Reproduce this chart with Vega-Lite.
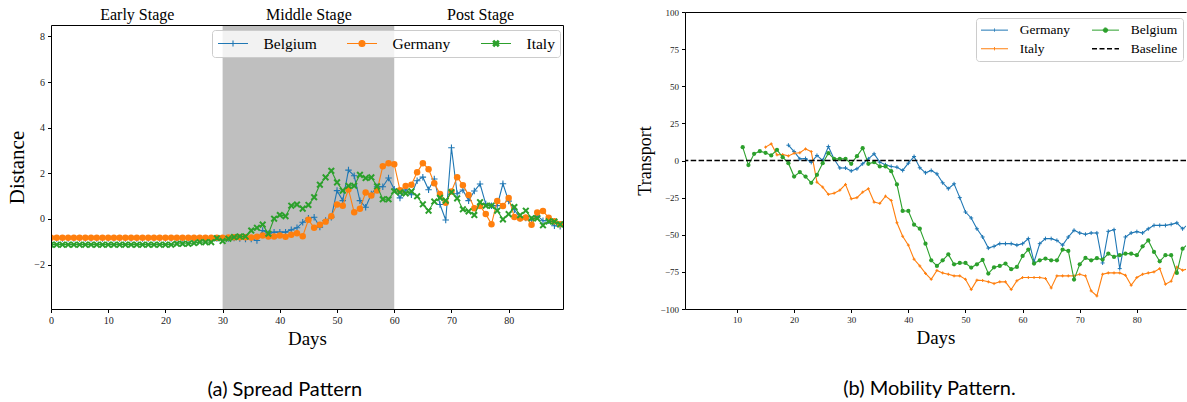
{
"$schema":"https://vega.github.io/schema/vega-lite/v6.json",
"background":"white",
"padding":{"left":6,"top":6,"right":0,"bottom":0},
"spacing":73,
"config":{"font":"Liberation Serif","view":{"stroke":null},
"axis":{"labelFont":"Liberation Serif","titleFont":"Liberation Serif","labelColor":"#222","titleColor":"black","domainColor":"black","tickColor":"black","titleFontWeight":"normal","grid":false,"tickSize":3.5,"labelPadding":3,"domainWidth":1,"tickWidth":1,"labelFlush":false,"labelOverlap":false}},
"resolve":{"scale":{"x":"independent","y":"independent","color":"independent"},"legend":{"color":"independent"}},
"datasets":{
"left":[
{"day":0,"c":"Belgium","v":-0.86},{"day":1,"c":"Belgium","v":-0.86},{"day":2,"c":"Belgium","v":-0.86},{"day":3,"c":"Belgium","v":-0.86},{"day":4,"c":"Belgium","v":-0.86},{"day":5,"c":"Belgium","v":-0.86},{"day":6,"c":"Belgium","v":-0.86},{"day":7,"c":"Belgium","v":-0.86},{"day":8,"c":"Belgium","v":-0.86},{"day":9,"c":"Belgium","v":-0.86},
{"day":10,"c":"Belgium","v":-0.86},{"day":11,"c":"Belgium","v":-0.86},{"day":12,"c":"Belgium","v":-0.86},{"day":13,"c":"Belgium","v":-0.86},{"day":14,"c":"Belgium","v":-0.86},{"day":15,"c":"Belgium","v":-0.86},{"day":16,"c":"Belgium","v":-0.86},{"day":17,"c":"Belgium","v":-0.86},{"day":18,"c":"Belgium","v":-0.86},{"day":19,"c":"Belgium","v":-0.86},
{"day":20,"c":"Belgium","v":-0.86},{"day":21,"c":"Belgium","v":-0.86},{"day":22,"c":"Belgium","v":-0.86},{"day":23,"c":"Belgium","v":-0.86},{"day":24,"c":"Belgium","v":-0.86},{"day":25,"c":"Belgium","v":-0.86},{"day":26,"c":"Belgium","v":-0.86},{"day":27,"c":"Belgium","v":-0.86},{"day":28,"c":"Belgium","v":-0.86},{"day":29,"c":"Belgium","v":-0.86},
{"day":30,"c":"Belgium","v":-0.86},{"day":31,"c":"Belgium","v":-0.86},{"day":32,"c":"Belgium","v":-0.84},{"day":33,"c":"Belgium","v":-0.86},{"day":34,"c":"Belgium","v":-0.88},{"day":35,"c":"Belgium","v":-0.88},{"day":36,"c":"Belgium","v":-0.95},{"day":37,"c":"Belgium","v":-0.51},{"day":38,"c":"Belgium","v":-0.65},{"day":39,"c":"Belgium","v":-0.58},
{"day":40,"c":"Belgium","v":-0.58},{"day":41,"c":"Belgium","v":-0.58},{"day":42,"c":"Belgium","v":-0.48},{"day":43,"c":"Belgium","v":-0.39},{"day":44,"c":"Belgium","v":-0.15},{"day":45,"c":"Belgium","v":0.03},{"day":46,"c":"Belgium","v":0.07},{"day":47,"c":"Belgium","v":-0.36},{"day":48,"c":"Belgium","v":-0.07},{"day":49,"c":"Belgium","v":0.07},
{"day":50,"c":"Belgium","v":1.24},{"day":51,"c":"Belgium","v":0.8},{"day":52,"c":"Belgium","v":2.14},{"day":53,"c":"Belgium","v":1.89},{"day":54,"c":"Belgium","v":0.8},{"day":55,"c":"Belgium","v":0.51},{"day":56,"c":"Belgium","v":1.09},{"day":57,"c":"Belgium","v":1.41},{"day":58,"c":"Belgium","v":1.41},{"day":59,"c":"Belgium","v":1.79},
{"day":60,"c":"Belgium","v":1.3},{"day":61,"c":"Belgium","v":0.92},{"day":62,"c":"Belgium","v":1.3},{"day":63,"c":"Belgium","v":1.06},{"day":64,"c":"Belgium","v":1.67},{"day":65,"c":"Belgium","v":1.83},{"day":66,"c":"Belgium","v":1.28},{"day":67,"c":"Belgium","v":1.75},{"day":68,"c":"Belgium","v":0.63},{"day":69,"c":"Belgium","v":-0.05},
{"day":70,"c":"Belgium","v":3.12},{"day":71,"c":"Belgium","v":1.1},{"day":72,"c":"Belgium","v":1.27},{"day":73,"c":"Belgium","v":0.8},{"day":74,"c":"Belgium","v":1.22},{"day":75,"c":"Belgium","v":1.53},{"day":76,"c":"Belgium","v":0.65},{"day":77,"c":"Belgium","v":0.58},{"day":78,"c":"Belgium","v":0.58},{"day":79,"c":"Belgium","v":1.54},
{"day":80,"c":"Belgium","v":0.78},{"day":81,"c":"Belgium","v":0.4},{"day":82,"c":"Belgium","v":0.03},{"day":83,"c":"Belgium","v":0.04},{"day":84,"c":"Belgium","v":-0.04},{"day":85,"c":"Belgium","v":0.14},{"day":86,"c":"Belgium","v":-0.08},{"day":87,"c":"Belgium","v":-0.08},{"day":88,"c":"Belgium","v":-0.3},{"day":89,"c":"Belgium","v":-0.32},
{"day":0,"c":"Germany","v":-0.83},{"day":1,"c":"Germany","v":-0.83},{"day":2,"c":"Germany","v":-0.83},{"day":3,"c":"Germany","v":-0.83},{"day":4,"c":"Germany","v":-0.83},{"day":5,"c":"Germany","v":-0.83},{"day":6,"c":"Germany","v":-0.83},{"day":7,"c":"Germany","v":-0.83},{"day":8,"c":"Germany","v":-0.83},{"day":9,"c":"Germany","v":-0.83},
{"day":10,"c":"Germany","v":-0.83},{"day":11,"c":"Germany","v":-0.83},{"day":12,"c":"Germany","v":-0.83},{"day":13,"c":"Germany","v":-0.83},{"day":14,"c":"Germany","v":-0.83},{"day":15,"c":"Germany","v":-0.83},{"day":16,"c":"Germany","v":-0.83},{"day":17,"c":"Germany","v":-0.83},{"day":18,"c":"Germany","v":-0.83},{"day":19,"c":"Germany","v":-0.83},
{"day":20,"c":"Germany","v":-0.83},{"day":21,"c":"Germany","v":-0.83},{"day":22,"c":"Germany","v":-0.83},{"day":23,"c":"Germany","v":-0.83},{"day":24,"c":"Germany","v":-0.83},{"day":25,"c":"Germany","v":-0.83},{"day":26,"c":"Germany","v":-0.83},{"day":27,"c":"Germany","v":-0.83},{"day":28,"c":"Germany","v":-0.83},{"day":29,"c":"Germany","v":-0.83},
{"day":30,"c":"Germany","v":-0.83},{"day":31,"c":"Germany","v":-0.82},{"day":32,"c":"Germany","v":-0.8},{"day":33,"c":"Germany","v":-0.8},{"day":34,"c":"Germany","v":-0.8},{"day":35,"c":"Germany","v":-0.82},{"day":36,"c":"Germany","v":-0.78},{"day":37,"c":"Germany","v":-0.73},{"day":38,"c":"Germany","v":-0.77},{"day":39,"c":"Germany","v":-0.77},
{"day":40,"c":"Germany","v":-0.73},{"day":41,"c":"Germany","v":-0.78},{"day":42,"c":"Germany","v":-0.7},{"day":43,"c":"Germany","v":-0.63},{"day":44,"c":"Germany","v":-0.76},{"day":45,"c":"Germany","v":-0.04},{"day":46,"c":"Germany","v":-0.39},{"day":47,"c":"Germany","v":-0.26},{"day":48,"c":"Germany","v":-0.12},{"day":49,"c":"Germany","v":0.12},
{"day":50,"c":"Germany","v":0.63},{"day":51,"c":"Germany","v":0.58},{"day":52,"c":"Germany","v":1.29},{"day":53,"c":"Germany","v":0.29},{"day":54,"c":"Germany","v":0.44},{"day":55,"c":"Germany","v":1.16},{"day":56,"c":"Germany","v":1.03},{"day":57,"c":"Germany","v":1.24},{"day":58,"c":"Germany","v":2.31},{"day":59,"c":"Germany","v":2.44},
{"day":60,"c":"Germany","v":2.4},{"day":61,"c":"Germany","v":1.26},{"day":62,"c":"Germany","v":1.44},{"day":63,"c":"Germany","v":1.5},{"day":64,"c":"Germany","v":2.04},{"day":65,"c":"Germany","v":2.44},{"day":66,"c":"Germany","v":2.18},{"day":67,"c":"Germany","v":1.56},{"day":68,"c":"Germany","v":1.09},{"day":69,"c":"Germany","v":0.71},
{"day":70,"c":"Germany","v":1.2},{"day":71,"c":"Germany","v":1.83},{"day":72,"c":"Germany","v":1.48},{"day":73,"c":"Germany","v":1.05},{"day":74,"c":"Germany","v":0.47},{"day":75,"c":"Germany","v":0.57},{"day":76,"c":"Germany","v":0.21},{"day":77,"c":"Germany","v":-0.23},{"day":78,"c":"Germany","v":0.78},{"day":79,"c":"Germany","v":0.57},
{"day":80,"c":"Germany","v":0.92},{"day":81,"c":"Germany","v":0.08},{"day":82,"c":"Germany","v":0.02},{"day":83,"c":"Germany","v":0.06},{"day":84,"c":"Germany","v":-0.26},{"day":85,"c":"Germany","v":0.28},{"day":86,"c":"Germany","v":0.35},{"day":87,"c":"Germany","v":0.05},{"day":88,"c":"Germany","v":-0.1},{"day":89,"c":"Germany","v":-0.23},
{"day":0,"c":"Italy","v":-1.13},{"day":1,"c":"Italy","v":-1.13},{"day":2,"c":"Italy","v":-1.13},{"day":3,"c":"Italy","v":-1.13},{"day":4,"c":"Italy","v":-1.13},{"day":5,"c":"Italy","v":-1.13},{"day":6,"c":"Italy","v":-1.13},{"day":7,"c":"Italy","v":-1.13},{"day":8,"c":"Italy","v":-1.13},{"day":9,"c":"Italy","v":-1.13},
{"day":10,"c":"Italy","v":-1.13},{"day":11,"c":"Italy","v":-1.13},{"day":12,"c":"Italy","v":-1.13},{"day":13,"c":"Italy","v":-1.13},{"day":14,"c":"Italy","v":-1.13},{"day":15,"c":"Italy","v":-1.13},{"day":16,"c":"Italy","v":-1.13},{"day":17,"c":"Italy","v":-1.13},{"day":18,"c":"Italy","v":-1.13},{"day":19,"c":"Italy","v":-1.13},
{"day":20,"c":"Italy","v":-1.13},{"day":21,"c":"Italy","v":-1.13},{"day":22,"c":"Italy","v":-1.09},{"day":23,"c":"Italy","v":-1.09},{"day":24,"c":"Italy","v":-1.09},{"day":25,"c":"Italy","v":-1.06},{"day":26,"c":"Italy","v":-1.02},{"day":27,"c":"Italy","v":-1.02},{"day":28,"c":"Italy","v":-1.02},{"day":29,"c":"Italy","v":-0.85},
{"day":30,"c":"Italy","v":-0.97},{"day":31,"c":"Italy","v":-0.87},{"day":32,"c":"Italy","v":-0.8},{"day":33,"c":"Italy","v":-0.77},{"day":34,"c":"Italy","v":-0.77},{"day":35,"c":"Italy","v":-0.51},{"day":36,"c":"Italy","v":-0.39},{"day":37,"c":"Italy","v":-0.25},{"day":38,"c":"Italy","v":-0.65},{"day":39,"c":"Italy","v":0.01},
{"day":40,"c":"Italy","v":0.17},{"day":41,"c":"Italy","v":0.12},{"day":42,"c":"Italy","v":0.58},{"day":43,"c":"Italy","v":0.63},{"day":44,"c":"Italy","v":0.45},{"day":45,"c":"Italy","v":0.61},{"day":46,"c":"Italy","v":0.95},{"day":47,"c":"Italy","v":1.5},{"day":48,"c":"Italy","v":1.82},{"day":49,"c":"Italy","v":2.11},
{"day":50,"c":"Italy","v":1.6},{"day":51,"c":"Italy","v":1.24},{"day":52,"c":"Italy","v":1.45},{"day":53,"c":"Italy","v":1.45},{"day":54,"c":"Italy","v":1.93},{"day":55,"c":"Italy","v":1.79},{"day":56,"c":"Italy","v":1.82},{"day":57,"c":"Italy","v":1.43},{"day":58,"c":"Italy","v":0.86},{"day":59,"c":"Italy","v":0.86},
{"day":60,"c":"Italy","v":1.21},{"day":61,"c":"Italy","v":1.16},{"day":62,"c":"Italy","v":1.12},{"day":63,"c":"Italy","v":1.21},{"day":64,"c":"Italy","v":0.99},{"day":65,"c":"Italy","v":0.64},{"day":66,"c":"Italy","v":0.36},{"day":67,"c":"Italy","v":0.76},{"day":68,"c":"Italy","v":0.92},{"day":69,"c":"Italy","v":0.8},
{"day":70,"c":"Italy","v":1.17},{"day":71,"c":"Italy","v":0.9},{"day":72,"c":"Italy","v":0.42},{"day":73,"c":"Italy","v":0.33},{"day":74,"c":"Italy","v":0.17},{"day":75,"c":"Italy","v":0.73},{"day":76,"c":"Italy","v":0.58},{"day":77,"c":"Italy","v":0.58},{"day":78,"c":"Italy","v":0.36},{"day":79,"c":"Italy","v":-0.02},
{"day":80,"c":"Italy","v":0.21},{"day":81,"c":"Italy","v":0.52},{"day":82,"c":"Italy","v":0.16},{"day":83,"c":"Italy","v":0.36},{"day":84,"c":"Italy","v":0.03},{"day":85,"c":"Italy","v":0.02},{"day":86,"c":"Italy","v":-0.28},{"day":87,"c":"Italy","v":-0.11},{"day":88,"c":"Italy","v":-0.12},{"day":89,"c":"Italy","v":-0.24}
],
"right":[
{"day":19,"c":"Germany","v":10.3},{"day":20,"c":"Germany","v":6},{"day":21,"c":"Germany","v":1.1},{"day":22,"c":"Germany","v":1.3},{"day":23,"c":"Germany","v":-1.3},{"day":24,"c":"Germany","v":3.4},{"day":25,"c":"Germany","v":0},{"day":26,"c":"Germany","v":9.4},{"day":27,"c":"Germany","v":1},{"day":28,"c":"Germany","v":-5},{"day":29,"c":"Germany","v":-5},
{"day":30,"c":"Germany","v":-7},{"day":31,"c":"Germany","v":-5.6},{"day":32,"c":"Germany","v":-2.2},{"day":33,"c":"Germany","v":1.1},{"day":34,"c":"Germany","v":4.5},{"day":35,"c":"Germany","v":-1.1},{"day":36,"c":"Germany","v":-2.9},{"day":37,"c":"Germany","v":-4},{"day":38,"c":"Germany","v":-4.5},{"day":39,"c":"Germany","v":-6.7},
{"day":40,"c":"Germany","v":-1.8},{"day":41,"c":"Germany","v":2.7},{"day":42,"c":"Germany","v":-4.9},{"day":43,"c":"Germany","v":-8.3},{"day":44,"c":"Germany","v":-6.7},{"day":45,"c":"Germany","v":-9},{"day":46,"c":"Germany","v":-15},{"day":47,"c":"Germany","v":-19},{"day":48,"c":"Germany","v":-15.7},{"day":49,"c":"Germany","v":-25},
{"day":50,"c":"Germany","v":-34.7},{"day":51,"c":"Germany","v":-38.7},{"day":52,"c":"Germany","v":-46},{"day":53,"c":"Germany","v":-51.5},{"day":54,"c":"Germany","v":-59},{"day":55,"c":"Germany","v":-57.8},{"day":56,"c":"Germany","v":-56},{"day":57,"c":"Germany","v":-56},{"day":58,"c":"Germany","v":-56},{"day":59,"c":"Germany","v":-57},
{"day":60,"c":"Germany","v":-56},{"day":61,"c":"Germany","v":-52.6},{"day":62,"c":"Germany","v":-68.3},{"day":63,"c":"Germany","v":-56},{"day":64,"c":"Germany","v":-52.6},{"day":65,"c":"Germany","v":-52.6},{"day":66,"c":"Germany","v":-53.8},{"day":67,"c":"Germany","v":-57},{"day":68,"c":"Germany","v":-51.5},{"day":69,"c":"Germany","v":-47},
{"day":70,"c":"Germany","v":-48.8},{"day":71,"c":"Germany","v":-49.7},{"day":72,"c":"Germany","v":-48.8},{"day":73,"c":"Germany","v":-48.8},{"day":74,"c":"Germany","v":-69},{"day":75,"c":"Germany","v":-47.7},{"day":76,"c":"Germany","v":-46.6},{"day":77,"c":"Germany","v":-72.8},{"day":78,"c":"Germany","v":-51.5},{"day":79,"c":"Germany","v":-48.8},
{"day":80,"c":"Germany","v":-47.9},{"day":81,"c":"Germany","v":-48.8},{"day":82,"c":"Germany","v":-46},{"day":83,"c":"Germany","v":-43.7},{"day":84,"c":"Germany","v":-43.7},{"day":85,"c":"Germany","v":-43.7},{"day":86,"c":"Germany","v":-43},{"day":87,"c":"Germany","v":-42},{"day":88,"c":"Germany","v":-46},{"day":89,"c":"Germany","v":-43},
{"day":15,"c":"Italy","v":9},{"day":16,"c":"Italy","v":11.2},{"day":17,"c":"Italy","v":3.8},{"day":18,"c":"Italy","v":4},{"day":19,"c":"Italy","v":3.1},
{"day":20,"c":"Italy","v":4.9},{"day":21,"c":"Italy","v":5.2},{"day":22,"c":"Italy","v":7.8},{"day":23,"c":"Italy","v":6},{"day":24,"c":"Italy","v":-14.6},{"day":25,"c":"Italy","v":-17.9},{"day":26,"c":"Italy","v":-22.8},{"day":27,"c":"Italy","v":-22},{"day":28,"c":"Italy","v":-20},{"day":29,"c":"Italy","v":-16.1},
{"day":30,"c":"Italy","v":-25.8},{"day":31,"c":"Italy","v":-25},{"day":32,"c":"Italy","v":-21.3},{"day":33,"c":"Italy","v":-19},{"day":34,"c":"Italy","v":-28},{"day":35,"c":"Italy","v":-28.9},{"day":36,"c":"Italy","v":-24},{"day":37,"c":"Italy","v":-26.9},{"day":38,"c":"Italy","v":-41.9},{"day":39,"c":"Italy","v":-51},
{"day":40,"c":"Italy","v":-57},{"day":41,"c":"Italy","v":-66.5},{"day":42,"c":"Italy","v":-71},{"day":43,"c":"Italy","v":-76},{"day":44,"c":"Italy","v":-80},{"day":45,"c":"Italy","v":-74},{"day":46,"c":"Italy","v":-75.7},{"day":47,"c":"Italy","v":-76.6},{"day":48,"c":"Italy","v":-77.7},{"day":49,"c":"Italy","v":-77.7},
{"day":50,"c":"Italy","v":-80},{"day":51,"c":"Italy","v":-86.9},{"day":52,"c":"Italy","v":-80.6},{"day":53,"c":"Italy","v":-80.8},{"day":54,"c":"Italy","v":-81.7},{"day":55,"c":"Italy","v":-82.9},{"day":56,"c":"Italy","v":-81.7},{"day":57,"c":"Italy","v":-81.7},{"day":58,"c":"Italy","v":-86.9},{"day":59,"c":"Italy","v":-81},
{"day":60,"c":"Italy","v":-78.8},{"day":61,"c":"Italy","v":-78.8},{"day":62,"c":"Italy","v":-78.8},{"day":63,"c":"Italy","v":-78.8},{"day":64,"c":"Italy","v":-79.5},{"day":65,"c":"Italy","v":-85.8},{"day":66,"c":"Italy","v":-77.7},{"day":67,"c":"Italy","v":-77.7},{"day":68,"c":"Italy","v":-77.7},{"day":69,"c":"Italy","v":-77.7},
{"day":70,"c":"Italy","v":-76.6},{"day":71,"c":"Italy","v":-77.7},{"day":72,"c":"Italy","v":-87.8},{"day":73,"c":"Italy","v":-91.2},{"day":74,"c":"Italy","v":-76.6},{"day":75,"c":"Italy","v":-75.7},{"day":76,"c":"Italy","v":-75.7},{"day":77,"c":"Italy","v":-75.7},{"day":78,"c":"Italy","v":-77.3},{"day":79,"c":"Italy","v":-84},
{"day":80,"c":"Italy","v":-78.8},{"day":81,"c":"Italy","v":-76.6},{"day":82,"c":"Italy","v":-75.7},{"day":83,"c":"Italy","v":-75},{"day":84,"c":"Italy","v":-72.8},{"day":85,"c":"Italy","v":-83.3},{"day":86,"c":"Italy","v":-81.3},{"day":87,"c":"Italy","v":-71.7},{"day":88,"c":"Italy","v":-73.9},{"day":89,"c":"Italy","v":-73},
{"day":11,"c":"Belgium","v":9},{"day":12,"c":"Belgium","v":-3.1},{"day":13,"c":"Belgium","v":4.5},{"day":14,"c":"Belgium","v":6.3},{"day":15,"c":"Belgium","v":5.2},{"day":16,"c":"Belgium","v":3.4},{"day":17,"c":"Belgium","v":7.2},{"day":18,"c":"Belgium","v":2.2},{"day":19,"c":"Belgium","v":-1.8},
{"day":20,"c":"Belgium","v":-10.8},{"day":21,"c":"Belgium","v":-7.8},{"day":22,"c":"Belgium","v":-10.8},{"day":23,"c":"Belgium","v":-15},{"day":24,"c":"Belgium","v":-9.6},{"day":25,"c":"Belgium","v":-1.8},{"day":26,"c":"Belgium","v":4.9},{"day":27,"c":"Belgium","v":1.1},{"day":28,"c":"Belgium","v":1.1},{"day":29,"c":"Belgium","v":1.1},
{"day":30,"c":"Belgium","v":-2.2},{"day":31,"c":"Belgium","v":2.9},{"day":32,"c":"Belgium","v":8.3},{"day":33,"c":"Belgium","v":-2.2},{"day":34,"c":"Belgium","v":-1.1},{"day":35,"c":"Belgium","v":-4},{"day":36,"c":"Belgium","v":-4},{"day":37,"c":"Belgium","v":-7.2},{"day":38,"c":"Belgium","v":-16.1},{"day":39,"c":"Belgium","v":-34},
{"day":40,"c":"Belgium","v":-34},{"day":41,"c":"Belgium","v":-43.2},{"day":42,"c":"Belgium","v":-45.9},{"day":43,"c":"Belgium","v":-56},{"day":44,"c":"Belgium","v":-67.2},{"day":45,"c":"Belgium","v":-71},{"day":46,"c":"Belgium","v":-67.2},{"day":47,"c":"Belgium","v":-63.2},{"day":48,"c":"Belgium","v":-69.9},{"day":49,"c":"Belgium","v":-69},
{"day":50,"c":"Belgium","v":-69},{"day":51,"c":"Belgium","v":-72.1},{"day":52,"c":"Belgium","v":-69.9},{"day":53,"c":"Belgium","v":-67},{"day":54,"c":"Belgium","v":-76.1},{"day":55,"c":"Belgium","v":-71.9},{"day":56,"c":"Belgium","v":-71},{"day":57,"c":"Belgium","v":-69.4},{"day":58,"c":"Belgium","v":-73.2},{"day":59,"c":"Belgium","v":-71.7},
{"day":60,"c":"Belgium","v":-64.3},{"day":61,"c":"Belgium","v":-60},{"day":62,"c":"Belgium","v":-69.4},{"day":63,"c":"Belgium","v":-67.2},{"day":64,"c":"Belgium","v":-66},{"day":65,"c":"Belgium","v":-67.2},{"day":66,"c":"Belgium","v":-67.2},{"day":67,"c":"Belgium","v":-60},{"day":68,"c":"Belgium","v":-60.9},{"day":69,"c":"Belgium","v":-80.2},
{"day":70,"c":"Belgium","v":-69.9},{"day":71,"c":"Belgium","v":-65.6},{"day":72,"c":"Belgium","v":-67.2},{"day":73,"c":"Belgium","v":-65.8},{"day":74,"c":"Belgium","v":-66.7},{"day":75,"c":"Belgium","v":-62.7},{"day":76,"c":"Belgium","v":-64.9},{"day":77,"c":"Belgium","v":-63.8},{"day":78,"c":"Belgium","v":-62.7},{"day":79,"c":"Belgium","v":-62.7},
{"day":80,"c":"Belgium","v":-63.8},{"day":81,"c":"Belgium","v":-57.8},{"day":82,"c":"Belgium","v":-53.8},{"day":83,"c":"Belgium","v":-61.6},{"day":84,"c":"Belgium","v":-67.9},{"day":85,"c":"Belgium","v":-63.8},{"day":86,"c":"Belgium","v":-63.8},{"day":87,"c":"Belgium","v":-75.7},{"day":88,"c":"Belgium","v":-59.4},{"day":89,"c":"Belgium","v":-56}
]
},
"hconcat":[
{
"width":512,"height":297,
"title":{"text":"(a) Spread Pattern","orient":"bottom","frame":"bounds","anchor":"middle","font":"Lato","fontSize":20,"fontWeight":"normal","color":"black","offset":31},
"resolve":{"axis":{"x":"independent","y":"independent"}},
"layer":[
{"data":{"values":[{"start":30,"end":60}]},"mark":{"type":"rect","color":"#bfbfbf"},
"encoding":{"x":{"field":"start","type":"quantitative","scale":{"domain":[0,89.5],"nice":false,"zero":false},"axis":{"orient":"bottom","values":[0,10,20,30,40,50,60,70,80],"title":"Days","labelFontSize":10,"titleFontSize":19,"titlePadding":4,"domain":true,"ticks":true,"domainColor":"black","tickColor":"black","zindex":1}},"x2":{"field":"end"},
"y":{"datum":8.5,"type":"quantitative","scale":{"domain":[-3.95,8.5],"range":[297,13],"nice":false,"zero":false},"axis":null},"y2":{"datum":-3.95}}},
{"data":{"name":"left"},"transform":[{"filter":"datum.c === 'Belgium'"}],"mark":{"type":"line","strokeWidth":1.1,"clip":true},
"encoding":{"x":{"field":"day","type":"quantitative","axis":{"orient":"top","offset":-13,"values":[15,45,75],"labelExpr":"datum.value == 15 ? 'Early Stage' : datum.value == 45 ? 'Middle Stage' : 'Post Stage'","ticks":false,"domain":true,"domainColor":"black","zindex":1,"title":null,"labelFontSize":16,"labelPadding":3,"labelColor":"black"}},
"y":{"field":"v","type":"quantitative","axis":{"orient":"left","values":[-2,0,2,4,6,8],"title":"Distance","labelFontSize":10,"titleFontSize":21,"titlePadding":6,"domain":true,"ticks":true,"domainColor":"black","tickColor":"black","zindex":1}},
"color":{"field":"c","type":"nominal","scale":{"domain":["Belgium","Germany","Italy"],"range":["#1f77b4","#ff7f0e","#2ca02c"]},
"legend":{"title":null,"orient":"none","legendX":161,"legendY":18,"direction":"horizontal","columns":3,"labelFont":"Liberation Serif","labelFontSize":15.5,"labelColor":"black","symbolSize":225,"symbolOffset":7.5,"symbolStrokeWidth":1.1,"labelOffset":22,"columnPadding":27,"padding":5,"fillColor":"rgba(255,255,255,0.8)","strokeColor":"#cccccc","cornerRadius":3,"labelLimit":0,
"encode":{"symbols":{"update":{"shape":{"signal":"datum.value === 'Belgium' ? 'M-2,0L2,0M0,-0.4L0,0.4M-0.4,0L0.4,0' : datum.value === 'Germany' ? 'M-2,0L2,0M-0.4,0A0.4,0.4,0,1,0,0.4,0A0.4,0.4,0,1,0,-0.4,0Z' : 'M-2,0L2,0M-0.4,-0.24L-0.24,-0.4L0,-0.16L0.24,-0.4L0.4,-0.24L0.16,0L0.4,0.24L0.24,0.4L0,0.16L-0.24,0.4L-0.4,0.24L-0.16,0Z'"},"fill":{"signal":"datum.value === 'Belgium' ? 'transparent' : datum.value === 'Germany' ? '#ff7f0e' : '#2ca02c'"},"stroke":{"signal":"datum.value === 'Belgium' ? '#1f77b4' : datum.value === 'Germany' ? '#ff7f0e' : '#2ca02c'"},"strokeWidth":{"value":1.1},"opacity":{"value":1}}}}}}}},
{"data":{"name":"left"},"transform":[{"filter":"datum.c === 'Belgium'"}],"mark":{"type":"point","shape":"M-1,0L1,0M0,-1L0,1","filled":false,"size":42,"strokeWidth":1.1,"opacity":1,"clip":true},
"encoding":{"x":{"field":"day","type":"quantitative","axis":null},"y":{"field":"v","type":"quantitative","axis":{"orient":"right","labels":false,"ticks":false,"domain":true,"domainColor":"black","zindex":1,"title":null}},"color":{"field":"c","type":"nominal"}}},
{"data":{"name":"left"},"transform":[{"filter":"datum.c === 'Germany'"}],"mark":{"type":"line","strokeWidth":1.1,"clip":true},
"encoding":{"x":{"field":"day","type":"quantitative","axis":null},"y":{"field":"v","type":"quantitative","axis":null},"color":{"field":"c","type":"nominal"}}},
{"data":{"name":"left"},"transform":[{"filter":"datum.c === 'Germany'"}],"mark":{"type":"point","shape":"circle","filled":true,"size":42,"opacity":1,"clip":true},
"encoding":{"x":{"field":"day","type":"quantitative","axis":null},"y":{"field":"v","type":"quantitative","axis":null},"color":{"field":"c","type":"nominal"}}},
{"data":{"name":"left"},"transform":[{"filter":"datum.c === 'Italy'"}],"mark":{"type":"line","strokeWidth":1.1,"clip":true},
"encoding":{"x":{"field":"day","type":"quantitative","axis":null},"y":{"field":"v","type":"quantitative","axis":null},"color":{"field":"c","type":"nominal"}}},
{"data":{"name":"left"},"transform":[{"filter":"datum.c === 'Italy'"}],"mark":{"type":"point","shape":"M-1,-0.6L-0.6,-1L0,-0.4L0.6,-1L1,-0.6L0.4,0L1,0.6L0.6,1L0,0.4L-0.6,1L-1,0.6L-0.4,0Z","filled":true,"size":50,"opacity":1,"clip":true},
"encoding":{"x":{"field":"day","type":"quantitative","axis":null},"y":{"field":"v","type":"quantitative","axis":null},"color":{"field":"c","type":"nominal"}}}
]
},
{
"width":501,"height":297,
"title":{"text":"(b) Mobility Pattern.","orient":"bottom","frame":"group","anchor":"middle","dx":-6,"font":"Lato","fontSize":20,"fontWeight":"normal","color":"black","offset":31},
"resolve":{"axis":{"x":"independent","y":"independent"}},
"layer":[
{"data":{"name":"right"},"transform":[{"filter":"datum.c === 'Germany'"}],"mark":{"type":"line","strokeWidth":1.1,"clip":true},
"encoding":{"x":{"field":"day","type":"quantitative","scale":{"domain":[0.9,88.6],"nice":false,"zero":false},"axis":{"orient":"bottom","values":[10,20,30,40,50,60,70,80],"title":"Days","labelFontSize":9,"titleFontSize":19,"titlePadding":4,"domain":true,"ticks":true,"domainColor":"black","tickColor":"black","zindex":1}},
"y":{"field":"v","type":"quantitative","scale":{"domain":[-100,100],"nice":false,"zero":false},"axis":{"orient":"left","values":[-100,-75,-50,-25,0,25,50,75,100],"title":"Transport","labelFontSize":9,"titleFontSize":18,"titlePadding":5,"domain":true,"ticks":true,"domainColor":"black","tickColor":"black","zindex":1}},
"color":{"field":"c","type":"nominal","scale":{"domain":["Germany","Italy","Belgium","Baseline"],"range":["#1f77b4","#ff7f0e","#2ca02c","#000000"]},
"legend":{"title":null,"orient":"none","legendX":291,"legendY":6,"columns":2,"labelFont":"Liberation Serif","labelFontSize":13.5,"labelColor":"black","symbolSize":182,"symbolOffset":6.75,"labelOffset":18.5,"columnPadding":19,"rowPadding":4,"padding":5,"fillColor":"rgba(255,255,255,0.8)","strokeColor":"#cccccc","cornerRadius":3,"labelLimit":0,
"encode":{"symbols":{"update":{"shape":{"signal":"datum.value === 'Belgium' ? 'M-2,0L2,0M-0.33,0A0.33,0.33,0,1,0,0.33,0A0.33,0.33,0,1,0,-0.33,0Z' : datum.value === 'Baseline' ? 'M-2,0L2,0' : 'M-2,0L2,0M0,-0.24L0,0.24'"},"fill":{"signal":"datum.value === 'Belgium' ? '#2ca02c' : 'transparent'"},"stroke":{"signal":"datum.value === 'Germany' ? '#1f77b4' : datum.value === 'Italy' ? '#ff7f0e' : datum.value === 'Belgium' ? '#2ca02c' : '#000000'"},"strokeDash":{"signal":"datum.value === 'Baseline' ? [5,2.5] : [1,0]"},"strokeWidth":{"signal":"datum.value === 'Baseline' ? 1.5 : 1"},"opacity":{"value":1}}}}}}}},
{"data":{"name":"right"},"transform":[{"filter":"datum.c === 'Germany'"}],"mark":{"type":"point","shape":"M-1,0L1,0M0,-1L0,1","filled":false,"size":16,"strokeWidth":1,"opacity":1,"clip":true},
"encoding":{"x":{"field":"day","type":"quantitative","axis":{"orient":"top","labels":false,"ticks":false,"domain":true,"title":null,"domainColor":"black","zindex":1}},"y":{"field":"v","type":"quantitative","axis":null},"color":{"field":"c","type":"nominal"}}},
{"data":{"name":"right"},"transform":[{"filter":"datum.c === 'Italy'"}],"mark":{"type":"line","strokeWidth":1.1,"clip":true},
"encoding":{"x":{"field":"day","type":"quantitative","axis":null},"y":{"field":"v","type":"quantitative","axis":null},"color":{"field":"c","type":"nominal"}}},
{"data":{"name":"right"},"transform":[{"filter":"datum.c === 'Italy'"}],"mark":{"type":"point","shape":"M-1,0L1,0M0,-1L0,1","filled":false,"size":9,"strokeWidth":1,"opacity":1,"clip":true},
"encoding":{"x":{"field":"day","type":"quantitative","axis":null},"y":{"field":"v","type":"quantitative","axis":null},"color":{"field":"c","type":"nominal"}}},
{"data":{"name":"right"},"transform":[{"filter":"datum.c === 'Belgium'"}],"mark":{"type":"line","strokeWidth":1.1,"clip":true},
"encoding":{"x":{"field":"day","type":"quantitative","axis":null},"y":{"field":"v","type":"quantitative","axis":null},"color":{"field":"c","type":"nominal"}}},
{"data":{"name":"right"},"transform":[{"filter":"datum.c === 'Belgium'"}],"mark":{"type":"point","shape":"circle","filled":true,"size":18,"opacity":1,"clip":true},
"encoding":{"x":{"field":"day","type":"quantitative","axis":null},"y":{"field":"v","type":"quantitative","axis":null},"color":{"field":"c","type":"nominal"}}},
{"data":{"values":[{"c":"Baseline","v":0}]},"mark":{"type":"rule","strokeDash":[5.5,2.4],"strokeWidth":1.5},
"encoding":{"y":{"field":"v","type":"quantitative","axis":null},"color":{"field":"c","type":"nominal"}}}
]
}
]
}
